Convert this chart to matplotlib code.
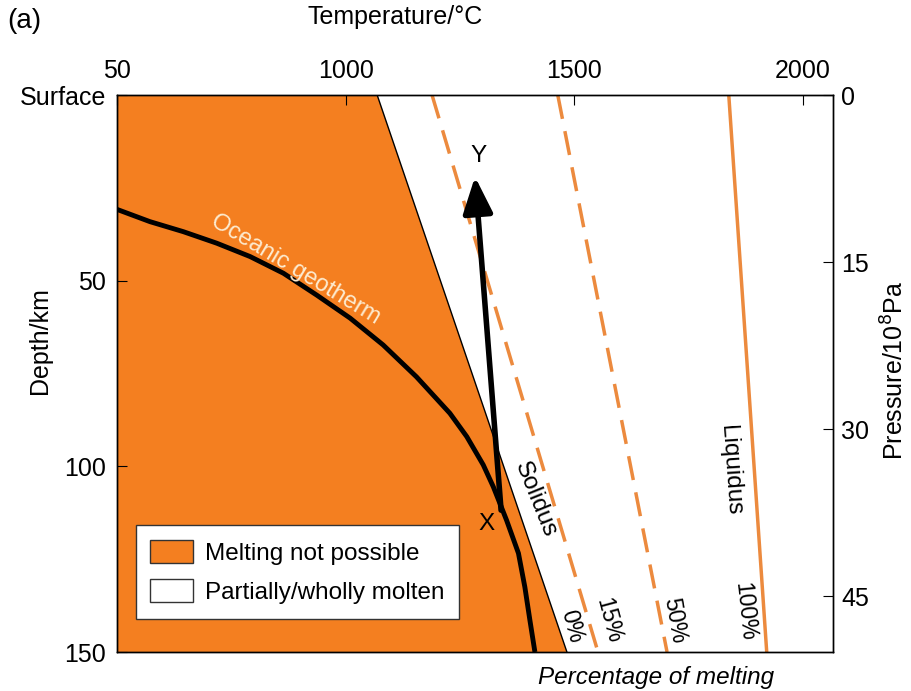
import matplotlib
matplotlib.use("Agg")
import matplotlib.pyplot as plt
from matplotlib.patches import Patch

plt.rcParams['font.family'] = ['Liberation Sans', 'DejaVu Sans']

# temperatures (deg C) at the surface (0 km) and at 150 km
solidus = [1069, 1484]
melt15 = [1189, 1552]
melt50 = [1464, 1703]
liquidus = [1838, 1921]
edge_depth = [0, 150]

# oceanic geotherm (deg C, km)
geo_T = [500, 572, 645, 718, 791, 864, 937, 1010, 1082, 1155, 1228, 1265, 1301,
         1323, 1352, 1378, 1392, 1403, 1414]
geo_d = [30.8, 34.1, 36.8, 39.9, 43.5, 48.0, 53.9, 60.1, 67.3, 75.9, 85.7, 92.0,
         99.6, 105.5, 114.5, 123.4, 132.5, 141.4, 150]

# adiabatic ascent path X -> Y
path_T = [1340, 1283]
path_d = [111.8, 22]

t_ticks = [500, 1000, 1500, 2000]
t_labels = ['50', '1000', '1500', '2000']
d_ticks = [0, 50, 100, 150]
d_labels = ['Surface', '50', '100', '150']
p_ticks = [0, 15, 30, 45]

orange = '#F47F20'
line_orange = '#EC8A3E'
fs = 17.5

fig = plt.figure(figsize=(9.12, 6.91), dpi=100)
ax = fig.add_axes([0.1283, 0.0564, 0.7851, 0.8061])
ax.set_xlim(500, 2066)
ax.set_ylim(150, 0)

# region where melting is not possible
ax.fill([500, solidus[0], solidus[1], 500], [0, 0, 150, 150], color=orange, lw=0, zorder=1)
ax.plot(solidus, edge_depth, color='k', lw=1, zorder=2)
ax.plot(melt15, edge_depth, color=line_orange, lw=2.5, dashes=(7, 3.6), zorder=2)
ax.plot(melt50, edge_depth, color=line_orange, lw=2.5, dashes=(7, 3.6), zorder=2)
ax.plot(liquidus, edge_depth, color=line_orange, lw=2.5, zorder=2)

ax.plot(geo_T, geo_d, color='k', lw=3.5, zorder=3, solid_capstyle='butt',
        solid_joinstyle='round')
ax.annotate('', xy=(path_T[1], path_d[1]), xytext=(path_T[0], path_d[0]),
            arrowprops=dict(arrowstyle='-|>,head_length=1.1,head_width=0.45',
                            lw=4, color='k', shrinkA=0, shrinkB=0, mutation_scale=20),
            zorder=4)
ax.text(1291, 16.5, 'Y', fontsize=fs, ha='center', va='center')
ax.text(1308, 115.5, 'X', fontsize=fs, ha='center', va='center')

ax.text(891, 47, 'Oceanic geotherm', fontsize=17, color='#FDEBD0',
        rotation=-31, ha='center', va='center', zorder=5)
ax.text(1414, 109, 'Solidus', fontsize=fs, rotation=-68, ha='center', va='center')
ax.text(1841, 101, 'Liquidus', fontsize=fs, rotation=-86, ha='center', va='center')
ax.text(1494, 143.2, '0%', fontsize=16.5, rotation=-75, ha='center', va='center')
ax.text(1575, 141.4, '15%', fontsize=16.5, rotation=-75, ha='center', va='center')
ax.text(1720, 141.4, '50%', fontsize=16.5, rotation=-80, ha='center', va='center')
ax.text(1873, 139.2, '100%', fontsize=16.5, rotation=-84, ha='center', va='center')
ax.text(0.753, -0.045, 'Percentage of melting', transform=ax.transAxes,
        fontsize=fs, style='italic', ha='center', va='center')

handles = [Patch(facecolor=orange, edgecolor='#333333', lw=1),
           Patch(facecolor='white', edgecolor='#333333', lw=1)]
leg = ax.legend(handles, ['Melting not possible', 'Partially/wholly molten'],
                loc='lower left', bbox_to_anchor=(0.026, 0.06), fontsize=fs,
                fancybox=False, framealpha=1, edgecolor='#333333',
                handlelength=1.75, handleheight=1.1, handletextpad=0.5,
                borderpad=0.6, labelspacing=0.6, borderaxespad=0)
leg.get_frame().set_linewidth(1)

ax.xaxis.tick_top()
ax.set_xticks(t_ticks)
ax.set_xticklabels(t_labels)
ax.set_yticks(d_ticks)
ax.set_yticklabels(d_labels)
ax.tick_params(axis='x', direction='in', length=7, labelsize=18, pad=9)
ax.tick_params(axis='y', direction='in', length=7, labelsize=18, pad=8)
ax.set_xlabel('Temperature/\u00b0C', fontsize=18)
ax.xaxis.set_label_position('top')
ax.xaxis.label.set_va('center')
ax.xaxis.set_label_coords(0.388, 1.14)
ax.set_ylabel('Depth/km', fontsize=18, va='center')
ax.yaxis.set_label_coords(-0.1075, 0.56)

ax2 = ax.twinx()
ax2.set_ylim(50, 0)
ax2.set_yticks(p_ticks)
ax2.tick_params(direction='in', length=7, labelsize=18, pad=6)
ax2.set_ylabel('Pressure/10$^8$Pa', fontsize=18, va='center')
ax2.yaxis.set_label_coords(1.0866, 0.506)

for a in (ax, ax2):
    for s in a.spines.values():
        s.set_linewidth(1)

fig.text(0.027, 0.97, '(a)', fontsize=20, ha='center', va='center')

fig.savefig('out.png', dpi=100)
